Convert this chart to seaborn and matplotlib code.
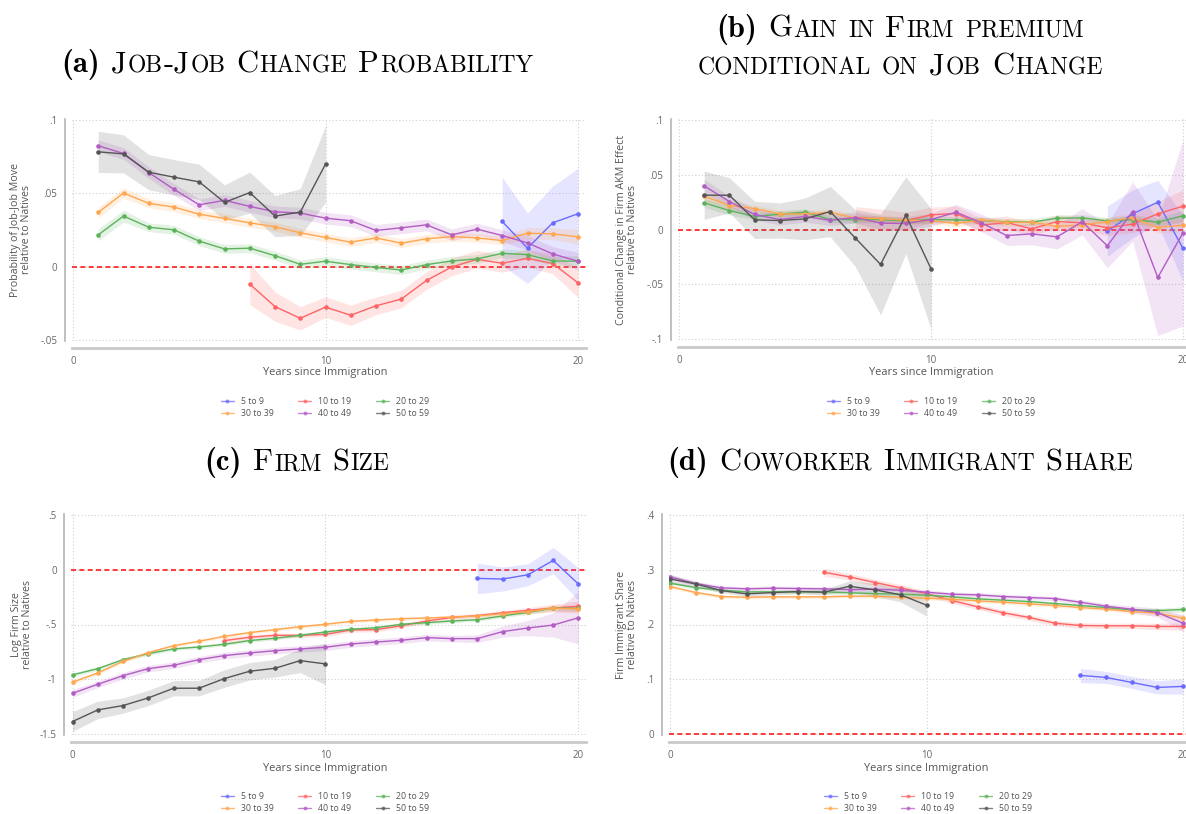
import matplotlib
matplotlib.use("Agg")
import matplotlib.pyplot as plt
import pandas as pd
import seaborn as sns
from matplotlib.lines import Line2D
from matplotlib.offsetbox import TextArea, HPacker, VPacker, AnchoredOffsetbox

# ---------------------------------------------------------------- data
GROUPS = ["5 to 9", "10 to 19", "20 to 29", "30 to 39", "40 to 49", "50 to 59"]
COLORS = ["#6a6aff", "#ff6464", "#5cb35c", "#ffa64f", "#b25cc4", "#555555"]

# (a) job-to-job move probability, relative to natives (years 1..20)
a_start = [17, 7, 1, 1, 1, 1]
a_5_9 = [0.0308, 0.0126, 0.0299, 0.0361]
a_5_9_ci = [0.030, 0.024, 0.025, 0.031]
a_10_19 = [-0.0119, -0.0272, -0.0352, -0.0276, -0.0331, -0.0267, -0.0221,
           -0.0094, -0.0002, 0.0050, 0.0023, 0.0057, 0.0021, -0.0110]
a_10_19_ci = [0.014, 0.010, 0.008, 0.007, 0.007, 0.006, 0.006,
              0.006, 0.006, 0.006, 0.006, 0.006, 0.007, 0.010]
a_20_29 = [0.0217, 0.0345, 0.0269, 0.0251, 0.0174, 0.0121, 0.0126, 0.0075, 0.0016, 0.0037,
           0.0014, -0.0005, -0.0023, 0.0014, 0.0039, 0.0053, 0.0091, 0.0082, 0.0039, 0.0037]
a_20_29_ci = [0.004, 0.004, 0.003, 0.003, 0.003, 0.003, 0.003, 0.003, 0.003, 0.003,
              0.003, 0.003, 0.003, 0.003, 0.003, 0.003, 0.003, 0.003, 0.003, 0.004]
a_30_39 = [0.0370, 0.0502, 0.0432, 0.0406, 0.0358, 0.0329, 0.0299, 0.0272, 0.0231, 0.0199,
           0.0167, 0.0196, 0.0160, 0.0190, 0.0205, 0.0196, 0.0178, 0.0228, 0.0224, 0.0203]
a_30_39_ci = [0.0035, 0.0035, 0.003, 0.003, 0.003, 0.003, 0.003, 0.003, 0.003, 0.003,
              0.003, 0.003, 0.003, 0.003, 0.003, 0.003, 0.003, 0.004, 0.004, 0.005]
a_40_49 = [0.0824, 0.0772, 0.0642, 0.0527, 0.0422, 0.0452, 0.0411, 0.0374, 0.0365, 0.0331,
           0.0313, 0.0247, 0.0265, 0.0285, 0.0217, 0.0256, 0.0212, 0.0162, 0.0087, 0.0037]
a_40_49_ci = [0.004, 0.004, 0.004, 0.004, 0.004, 0.004, 0.004, 0.004, 0.004, 0.004,
              0.004, 0.004, 0.004, 0.004, 0.004, 0.004, 0.004, 0.005, 0.005, 0.006]
a_50_59 = [0.0783, 0.0769, 0.0644, 0.0610, 0.0578, 0.0438, 0.0505, 0.0345, 0.0372, 0.0699]
a_50_59_ci = [0.014, 0.013, 0.012, 0.012, 0.012, 0.012, 0.014, 0.014, 0.016, 0.026]

# (b) conditional change in firm AKM effect (years 1..20)
b_start = [17, 7, 1, 1, 1, 1]
b_5_9 = [-0.0015, 0.0143, 0.0249, -0.0173]
b_5_9_ci = [0.023, 0.022, 0.020, 0.030]
b_10_19 = [0.0109, 0.0097, 0.0079, 0.0134, 0.0146, 0.0040, 0.0064,
           0.0006, 0.0073, 0.0061, 0.0015, 0.0049, 0.0143, 0.0213]
b_10_19_ci = [0.010, 0.009, 0.008, 0.007, 0.007, 0.006, 0.006,
              0.006, 0.006, 0.006, 0.007, 0.008, 0.011, 0.015]
b_20_29 = [0.0243, 0.0173, 0.0119, 0.0140, 0.0158, 0.0091, 0.0091, 0.0091, 0.0079, 0.0091,
           0.0088, 0.0082, 0.0070, 0.0067, 0.0103, 0.0106, 0.0079, 0.0091, 0.0067, 0.0125]
b_20_29_ci = [0.004, 0.004, 0.003, 0.003, 0.003, 0.003, 0.003, 0.003, 0.003, 0.003,
              0.003, 0.003, 0.003, 0.003, 0.003, 0.003, 0.003, 0.004, 0.004, 0.005]
b_30_39 = [0.0304, 0.0219, 0.0191, 0.0143, 0.0140, 0.0158, 0.0103, 0.0100, 0.0085, 0.0079,
           0.0055, 0.0088, 0.0064, 0.0067, 0.0030, 0.0040, 0.0073, 0.0109, 0.0018, 0.0040]
b_30_39_ci = [0.004, 0.004, 0.003, 0.003, 0.003, 0.003, 0.003, 0.003, 0.003, 0.003,
              0.003, 0.003, 0.003, 0.003, 0.003, 0.003, 0.004, 0.004, 0.005, 0.006]
b_40_49 = [0.0398, 0.0255, 0.0137, 0.0091, 0.0119, 0.0085, 0.0109, 0.0058, 0.0055, 0.0091,
           0.0158, 0.0061, -0.0055, -0.0040, -0.0067, 0.0070, -0.0149, 0.0164, -0.0438, -0.0030]
b_40_49_ci = [0.006, 0.005, 0.005, 0.005, 0.005, 0.005, 0.005, 0.006, 0.006, 0.006,
              0.007, 0.008, 0.009, 0.010, 0.011, 0.012, 0.020, 0.027, 0.053, 0.085]
b_50_59 = [0.0313, 0.0313, 0.0088, 0.0082, 0.0097, 0.0164, -0.0079, -0.0319, 0.0131, -0.0359]
b_50_59_ci = [0.022, 0.016, 0.017, 0.016, 0.019, 0.023, 0.026, 0.046, 0.035, 0.055]

# (c) log firm size (years 0..20)
c_start = [16, 6, 0, 0, 0, 0]
c_5_9 = [-0.079, -0.085, -0.046, 0.085, -0.131]
c_5_9_ci = [0.14, 0.11, 0.10, 0.12, 0.15]
c_10_19 = [-0.647, -0.617, -0.599, -0.599, -0.590, -0.550, -0.547, -0.511,
           -0.468, -0.435, -0.419, -0.392, -0.371, -0.350, -0.334]
c_10_19_ci = [0.025, 0.022, 0.02, 0.02, 0.02, 0.02, 0.02, 0.02,
              0.02, 0.02, 0.02, 0.02, 0.025, 0.035, 0.05]
c_20_29 = [-0.960, -0.903, -0.821, -0.766, -0.723, -0.705, -0.681, -0.647, -0.626, -0.599, -0.568,
           -0.544, -0.529, -0.498, -0.483, -0.468, -0.456, -0.422, -0.389, -0.350, -0.353]
c_20_29_ci = [0.02, 0.015, 0.015, 0.015, 0.015, 0.015, 0.015, 0.015, 0.015, 0.015, 0.015,
              0.015, 0.015, 0.015, 0.015, 0.015, 0.015, 0.015, 0.02, 0.02, 0.025]
c_30_39 = [-1.027, -0.942, -0.836, -0.757, -0.693, -0.653, -0.608, -0.574, -0.547, -0.520, -0.498,
           -0.471, -0.459, -0.447, -0.441, -0.432, -0.422, -0.401, -0.383, -0.350, -0.359]
c_30_39_ci = [0.02, 0.015, 0.015, 0.015, 0.015, 0.015, 0.015, 0.015, 0.015, 0.015, 0.015,
              0.015, 0.015, 0.015, 0.015, 0.015, 0.015, 0.015, 0.02, 0.03, 0.04]
c_40_49 = [-1.128, -1.046, -0.967, -0.903, -0.872, -0.821, -0.784, -0.760, -0.739, -0.723, -0.708,
           -0.678, -0.660, -0.644, -0.620, -0.629, -0.629, -0.565, -0.532, -0.505, -0.438]
c_40_49_ci = [0.035, 0.03, 0.03, 0.03, 0.03, 0.03, 0.03, 0.03, 0.03, 0.03, 0.03,
              0.03, 0.03, 0.03, 0.03, 0.03, 0.035, 0.05, 0.07, 0.11, 0.24]
c_50_59 = [-1.386, -1.280, -1.240, -1.170, -1.082, -1.082, -0.994, -0.927, -0.900, -0.830, -0.860]
c_50_59_ci = [0.09, 0.08, 0.07, 0.07, 0.07, 0.07, 0.08, 0.08, 0.08, 0.11, 0.19]

# (d) coworker immigrant share (years 0..20)
d_start = [16, 6, 0, 0, 0, 0]
d_5_9 = [0.1070, 0.1033, 0.0942, 0.0851, 0.0869]
d_5_9_ci = [0.013, 0.011, 0.011, 0.012, 0.014]
d_10_19 = [0.2954, 0.2869, 0.2766, 0.2669, 0.2565, 0.2438, 0.2322, 0.2213,
           0.2128, 0.2024, 0.1982, 0.1976, 0.1976, 0.1964, 0.1964]
d_10_19_ci = [0.007, 0.006, 0.006, 0.006, 0.005, 0.005, 0.005, 0.005,
              0.005, 0.005, 0.005, 0.005, 0.005, 0.006, 0.007]
d_20_29 = [0.2754, 0.2675, 0.2626, 0.2596, 0.2596, 0.2596, 0.2596, 0.2578, 0.2565, 0.2553, 0.2535,
           0.2505, 0.2468, 0.2444, 0.2419, 0.2383, 0.2347, 0.2310, 0.2267, 0.2255, 0.2274]
d_20_29_ci = [0.003, 0.003, 0.003, 0.003, 0.003, 0.003, 0.003, 0.003, 0.003, 0.003, 0.003,
              0.003, 0.003, 0.003, 0.003, 0.003, 0.003, 0.003, 0.003, 0.004, 0.005]
d_30_39 = [0.2693, 0.2584, 0.2511, 0.2498, 0.2505, 0.2505, 0.2505, 0.2517, 0.2517, 0.2498, 0.2480,
           0.2462, 0.2432, 0.2407, 0.2377, 0.2347, 0.2310, 0.2280, 0.2237, 0.2207, 0.2116]
d_30_39_ci = [0.003, 0.003, 0.003, 0.003, 0.003, 0.003, 0.003, 0.003, 0.003, 0.003, 0.003,
              0.003, 0.003, 0.003, 0.003, 0.003, 0.003, 0.003, 0.004, 0.005, 0.006]
d_40_49 = [0.2869, 0.2748, 0.2669, 0.2651, 0.2663, 0.2657, 0.2651, 0.2638, 0.2644, 0.2626, 0.2590,
           0.2553, 0.2541, 0.2511, 0.2492, 0.2474, 0.2407, 0.2334, 0.2280, 0.2219, 0.2024]
d_40_49_ci = [0.004, 0.004, 0.004, 0.004, 0.004, 0.004, 0.004, 0.004, 0.004, 0.004, 0.004,
              0.004, 0.004, 0.004, 0.004, 0.004, 0.004, 0.005, 0.006, 0.008, 0.015]
d_50_59 = [0.2833, 0.2742, 0.2620, 0.2559, 0.2584, 0.2602, 0.2590, 0.2699, 0.2632, 0.2541, 0.2353]
d_50_59_ci = [0.008, 0.005, 0.004, 0.004, 0.004, 0.004, 0.005, 0.010, 0.012, 0.013, 0.020]

# tick labels
a_yticks, a_yticklabels = [-0.05, 0, 0.05, 0.1], ["-.05", "0", ".05", ".1"]
b_yticks, b_yticklabels = [-0.1, -0.05, 0, 0.05, 0.1], ["-.1", "-.05", "0", ".05", ".1"]
c_yticks, c_yticklabels = [-1.5, -1, -0.5, 0, 0.5], ["-1.5", "-1", "-.5", "0", ".5"]
d_yticks, d_yticklabels = [0, 0.1, 0.2, 0.3, 0.4], ["0", ".1", ".2", ".3", ".4"]
xticks = [0, 10, 20]

# ---------------------------------------------------------------- style
sns.set_theme(style="white")
plt.rcParams["font.family"] = ["Open Sans", "DejaVu Sans"]
W, H = 1186, 814
TXT = "#555555"


def build_frame(starts, ests, cis):
    rows = []
    for g, s, est, ci in zip(GROUPS, starts, ests, cis):
        for i, (v, c) in enumerate(zip(est, ci)):
            rows.append({"group": g, "year": s + i, "value": v, "lo": v - c, "hi": v + c})
    return pd.DataFrame(rows)


def make_axes(fig, x0, x20, yhi_px, ylo_px, yhi, ylo, xlim=(-0.05, 20.3), ypad=0.006):
    sx = (x20 - x0) / 20.0
    left, right = x0 + xlim[0] * sx, x0 + xlim[1] * sx
    sy = (ylo_px - yhi_px) / (yhi - ylo)
    rng = yhi - ylo
    top, bottom = yhi_px - ypad * rng * sy, ylo_px + ypad * rng * sy
    ax = fig.add_axes([left / W, 1 - bottom / H, (right - left) / W, (bottom - top) / H])
    ax.set_xlim(*xlim)
    ax.set_ylim(ylo - ypad * rng, yhi + ypad * rng)
    return ax, (left, right, top, bottom)


def draw_panel(ax, box, df, yticks, yticklabels, ylabel, ylab_x, xlab_xy):
    left, right, top, bottom = box
    ax.axhline(0, color="#ff1a1a", lw=1.2, ls=(0, (3, 2)), zorder=1.5)
    for g, c in zip(GROUPS, COLORS):
        sub = df[df.group == g]
        ax.fill_between(sub.year, sub.lo, sub.hi, color=c, alpha=0.17, lw=0, zorder=2)
    sns.lineplot(data=df, x="year", y="value", hue="group", hue_order=GROUPS,
                 palette=COLORS, marker="o", markersize=3.3, markeredgewidth=0,
                 linewidth=1.0, estimator=None, errorbar=None, legend=False,
                 ax=ax, zorder=3)
    ax.set_xticks(xticks)
    ax.set_xticklabels([str(t) for t in xticks])
    ax.set_yticks(yticks)
    ax.set_yticklabels(yticklabels)
    ax.grid(True, ls=(0, (1, 2)), color="#cfcfcf", lw=0.8)
    ax.set_axisbelow(True)
    for s in ("top", "right"):
        ax.spines[s].set_visible(False)
    ax.spines["left"].set_position(("outward", 5))
    ax.spines["bottom"].set_position(("outward", 5))
    ax.spines["left"].set_color("#b4b4b4")
    ax.spines["left"].set_linewidth(1.2)
    ax.spines["bottom"].set_color("#cacaca")
    ax.spines["bottom"].set_linewidth(2.0)
    ax.tick_params(axis="both", length=3.5, width=0.8, color="#aaaaaa",
                   labelsize=7, labelcolor="#666666", pad=2)
    ax.set_ylabel(ylabel, fontsize=7.7, color=TXT, va="center", linespacing=1.05)
    ax.yaxis.set_label_coords((ylab_x - left) / (right - left), 0.5)
    ax.set_xlabel("Years since Immigration", fontsize=7.9, color=TXT, va="center")
    ax.xaxis.set_label_coords((xlab_xy[0] - left) / (right - left),
                              (bottom - xlab_xy[1]) / (bottom - top))


def add_legend(fig, cx, cy):
    handles = [Line2D([], [], color=c, marker="o", markersize=2.8, markeredgewidth=0,
                      lw=1.0, alpha=0.75) for c in COLORS]
    order = [0, 3, 1, 4, 2, 5]
    fig.legend([handles[i] for i in order], [GROUPS[i] for i in order],
               loc="center", bbox_to_anchor=(cx / W, 1 - cy / H), ncol=3,
               frameon=False, prop={"size": 6.3}, labelcolor=TXT,
               handlelength=1.5, handletextpad=0.8, columnspacing=2.8,
               labelspacing=0.35, borderpad=0)


def small_caps(text, size, label=None, ratio=0.77):
    parts = []
    if label:
        parts.append(TextArea(label, textprops=dict(fontfamily="cmb10", fontsize=size,
                                                    color="black")))
    for word in text.split(" "):
        runs, cur, cur_small = [], "", None
        for ch in word:
            small = ch.isalpha() and ch.islower()
            if cur and small != cur_small:
                runs.append((cur, cur_small))
                cur = ""
            cur += ch.upper() if small else ch
            cur_small = small
        runs.append((cur, cur_small))
        areas = [TextArea(t, textprops=dict(fontfamily="cmr10",
                                            fontsize=size * ratio if sm else size,
                                            color="black")) for t, sm in runs]
        parts.append(HPacker(children=areas, align="baseline", pad=0, sep=0.8))
    return HPacker(children=parts, align="baseline", pad=0, sep=size * 0.36)


def add_title(fig, box, cx, cy):
    aob = AnchoredOffsetbox(loc="center", child=box, pad=0, borderpad=0, frameon=False,
                            bbox_to_anchor=(cx / W, 1 - cy / H),
                            bbox_transform=fig.transFigure)
    fig.add_artist(aob)


# ---------------------------------------------------------------- figure
fig = plt.figure(figsize=(W / 100, H / 100), dpi=100)
TS = 22

ax_a, box_a = make_axes(fig, 73, 578, 120, 340, 0.1, -0.05)
df_a = build_frame(a_start, [a_5_9, a_10_19, a_20_29, a_30_39, a_40_49, a_50_59],
                   [a_5_9_ci, a_10_19_ci, a_20_29_ci, a_30_39_ci, a_40_49_ci, a_50_59_ci])
draw_panel(ax_a, box_a, df_a, a_yticks, a_yticklabels,
           "Probability of Job-Job Move\nrelative to Natives", 21, (325, 373))
add_legend(fig, 325, 407.5)
add_title(fig, small_caps("Job-Job Change Probability", TS, "(a)"), 297, 65)

ax_b, box_b = make_axes(fig, 679, 1183, 120, 339, 0.1, -0.1)
df_b = build_frame(b_start, [b_5_9, b_10_19, b_20_29, b_30_39, b_40_49, b_50_59],
                   [b_5_9_ci, b_10_19_ci, b_20_29_ci, b_30_39_ci, b_40_49_ci, b_50_59_ci])
draw_panel(ax_b, box_b, df_b, b_yticks, b_yticklabels,
           "Conditional Change in Firm AKM Effect\nrelative to Natives", 627, (931, 373))
add_legend(fig, 931, 407.5)
title_b = VPacker(children=[small_caps("Gain in Firm premium", TS, "(b)"),
                            small_caps("conditional on Job Change", TS)],
                  align="center", pad=0, sep=6)
add_title(fig, title_b, 900, 47)

ax_c, box_c = make_axes(fig, 72.5, 578.5, 515, 734, 0.5, -1.5)
df_c = build_frame(c_start, [c_5_9, c_10_19, c_20_29, c_30_39, c_40_49, c_50_59],
                   [c_5_9_ci, c_10_19_ci, c_20_29_ci, c_30_39_ci, c_40_49_ci, c_50_59_ci])
draw_panel(ax_c, box_c, df_c, c_yticks, c_yticklabels,
           "Log Firm Size\nrelative to Natives", 22, (325, 768))
add_legend(fig, 325, 802.7)
add_title(fig, small_caps("Firm Size", TS, "(c)"), 297, 463)

ax_d, box_d = make_axes(fig, 670, 1183, 515, 734, 0.4, 0.0)
df_d = build_frame(d_start, [d_5_9, d_10_19, d_20_29, d_30_39, d_40_49, d_50_59],
                   [d_5_9_ci, d_10_19_ci, d_20_29_ci, d_30_39_ci, d_40_49_ci, d_50_59_ci])
draw_panel(ax_d, box_d, df_d, d_yticks, d_yticklabels,
           "Firm Immigrant Share\nrelative to Natives", 627, (926, 768))
add_legend(fig, 928, 802.7)
add_title(fig, small_caps("Coworker Immigrant Share", TS, "(d)"), 900, 463)

fig.savefig("out.png", dpi=100, facecolor="white")
